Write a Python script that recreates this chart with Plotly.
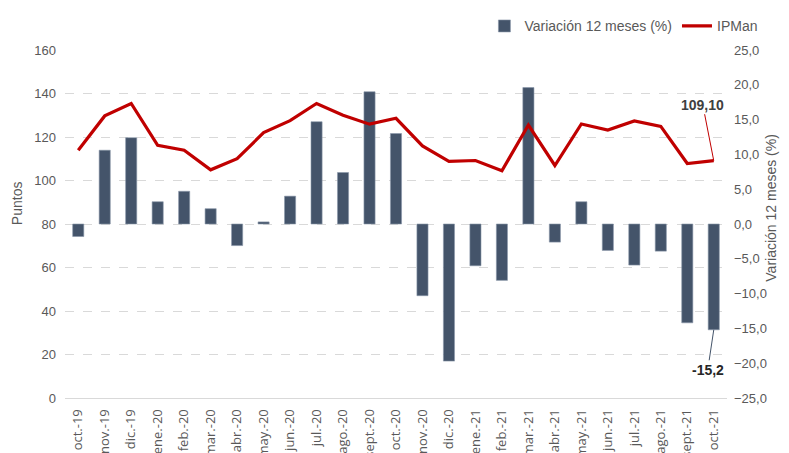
import plotly.graph_objects as go

meses = ['oct.-19', 'nov.-19', 'dic.-19', 'ene.-20', 'feb.-20', 'mar.-20', 'abr.-20', 'may.-20',
         'jun.-20', 'jul.-20', 'ago.-20', 'sept.-20', 'oct.-20', 'nov.-20', 'dic.-20', 'ene.-21',
         'feb.-21', 'mar.-21', 'abr.-21', 'may.-21', 'jun.-21', 'jul.-21', 'ago.-21', 'sept.-21', 'oct.-21']
ipman = [113.9, 129.7, 135.4, 116.2, 113.9, 104.9, 110.0, 122.0, 127.5, 135.4, 130.0, 125.9, 128.6,
         115.9, 108.8, 109.2, 104.5, 125.5, 106.9, 126.0, 123.2, 127.4, 124.9, 107.8, 109.1]
variacion = [-1.8, 10.6, 12.4, 3.2, 4.7, 2.2, -3.1, 0.3, 4.0, 14.7, 7.4, 19.0, 13.0,
             -10.3, -19.7, -6.0, -8.1, 19.6, -2.6, 3.2, -3.8, -5.9, -3.9, -14.2, -15.2]

gris = '#595959'
fnt = 'Liberation Sans Narrow, Arial Narrow, sans-serif'

f = go.Figure()
f.add_trace(go.Bar(x=meses, y=variacion, name='Variación 12 meses (%)', marker_color='#44546A',
                   marker_line=dict(color='#8a97aa', width=0.6), width=0.42, yaxis='y'))
f.add_trace(go.Scatter(x=meses, y=ipman, name='IPMan', mode='lines',
                       line=dict(color='#C00000', width=3.2), yaxis='y2'))

f.add_annotation(x='oct.-21', y=ipman[-1], yref='y2', text='<b>109,10</b>', showarrow=True,
                 ax=-11, ay=-56, arrowhead=0, arrowwidth=1, arrowcolor='#C00000',
                 font=dict(size=14, color='#404040', family=fnt))
f.add_annotation(x='oct.-21', y=variacion[-1], yref='y', text='<b>-15,2</b>', showarrow=True,
                 ax=-6, ay=40, arrowhead=0, arrowwidth=1, arrowcolor='#44546A',
                 font=dict(size=14, color='#262626', family=fnt))

# titulos de ejes
f.add_annotation(xref='paper', yref='paper', x=-0.0725, y=0.56, text='Puntos', textangle=-90,
                 xanchor='center', yanchor='middle', showarrow=False,
                 font=dict(size=14, color=gris, family=fnt))
f.add_annotation(xref='paper', yref='paper', x=1.066, y=0.546, text='Variación 12 meses (%)',
                 textangle=-90, xanchor='center', yanchor='middle', showarrow=False,
                 font=dict(size=14, color=gris, family=fnt))

# la pagina tiene 8px de margen en el body
f.update_layout(
    width=781, height=445, plot_bgcolor='white', paper_bgcolor='white',
    margin=dict(l=57, r=62, t=42, b=55, autoexpand=False), separators=',.',
    font=dict(family=fnt, color=gris, size=13),
    bargap=0.58, showlegend=True,
    legend=dict(orientation='h', x=1.055, xanchor='right', y=1.022, yanchor='bottom',
                font=dict(size=14, color=gris), traceorder='normal', itemwidth=30),
    xaxis=dict(tickangle=-90, tickfont=dict(size=13, color=gris, family='Open Sans'),
               showline=True, linecolor='#d9d9d9', ticks='', showgrid=False,
               ticklabelstandoff=5),
    yaxis=dict(side='right', range=[-25, 25], dtick=5, tickformat='.1f', showgrid=False,
               zeroline=False, ticklabelstandoff=6, tickfont=dict(size=13)),
    yaxis2=dict(side='left', overlaying='y', range=[0, 160], dtick=20, showgrid=True,
                gridcolor='#d9d9d9', griddash='dash', zeroline=False, ticklabelstandoff=8,
                tickfont=dict(size=13)),
)

f.write_html('out.html')
